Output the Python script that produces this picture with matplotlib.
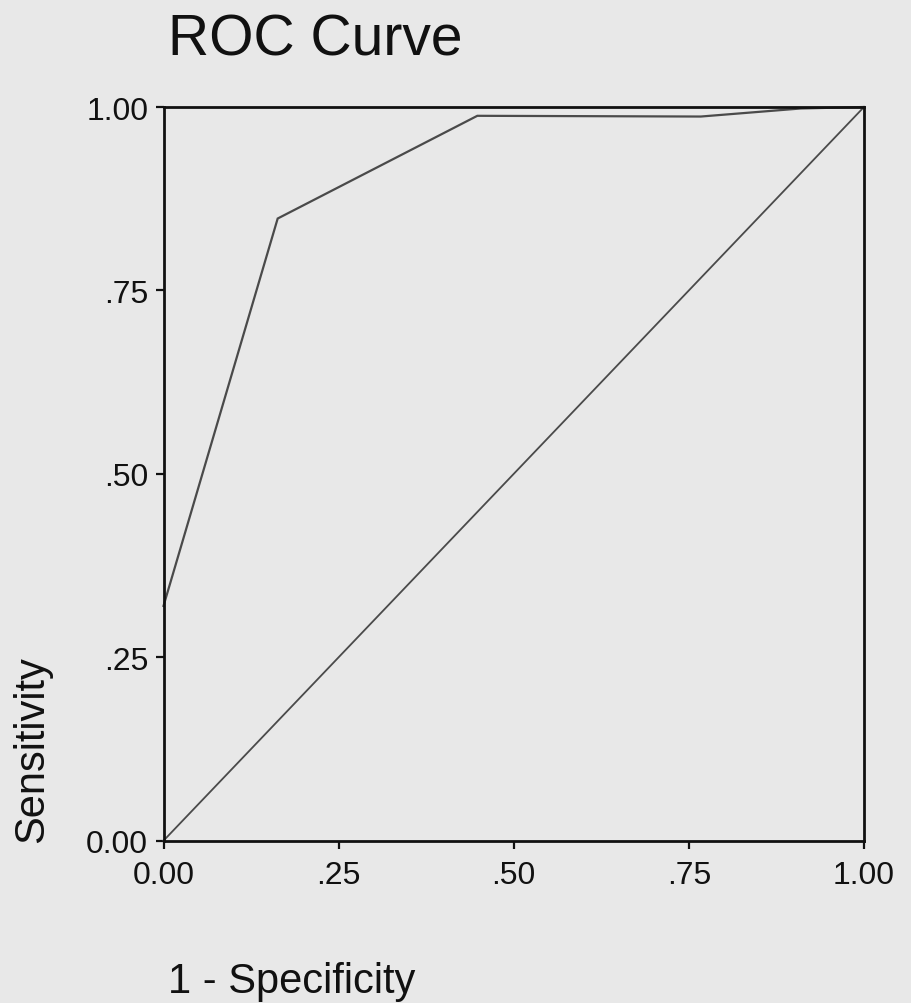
import matplotlib.pyplot as plt

# ROC curve points
fpr = [0.0, 0.163, 0.448, 0.767, 0.91, 1.0]
tpr = [0.32, 0.848, 0.988, 0.987, 0.998, 1.0]

# reference diagonal
diag_x = [0.0, 1.0]
diag_y = [0.0, 1.0]

ticks = [0.0, 0.25, 0.5, 0.75, 1.0]
tick_labels = ["0.00", ".25", ".50", ".75", "1.00"]

plt.rcParams["font.family"] = ["Liberation Sans", "DejaVu Sans"]

bg = "#e8e8e8"
fig = plt.figure(figsize=(9.11, 10.04), dpi=100, facecolor=bg)
ax = fig.add_axes([163.5 / 911, 162.3 / 1004, 700.5 / 911, 733.7 / 1004])
ax.set_facecolor(bg)

ax.plot(fpr, tpr, color="#4a4a4a", lw=1.6, solid_joinstyle="miter", clip_on=False)
ax.plot(diag_x, diag_y, color="#4a4a4a", lw=1.3, clip_on=False)

ax.set_xlim(0, 1)
ax.set_ylim(0, 1)
ax.set_xticks(ticks)
ax.set_xticklabels(tick_labels)
ax.set_yticks(ticks)
ax.set_yticklabels(tick_labels)

for s in ax.spines.values():
    s.set_linewidth(2)
    s.set_color("#111111")

ax.tick_params(axis="both", direction="out", length=6, width=1.6, colors="#111111",
               labelsize=23)
ax.tick_params(axis="x", pad=8)
ax.tick_params(axis="y", pad=5)

fig.text(168 / 911, 1 - 55 / 1004, "ROC Curve", fontsize=41, ha="left", va="baseline",
         color="#111111")
fig.text(12 / 911, 1 - 843 / 1004, "Sensitivity", fontsize=30, rotation=90,
         ha="left", va="bottom", color="#111111")
fig.text(168 / 911, 11 / 1004, "1 - Specificity", fontsize=30, ha="left", va="baseline",
         color="#111111")

fig.savefig("out.png", dpi=100, facecolor=bg)
